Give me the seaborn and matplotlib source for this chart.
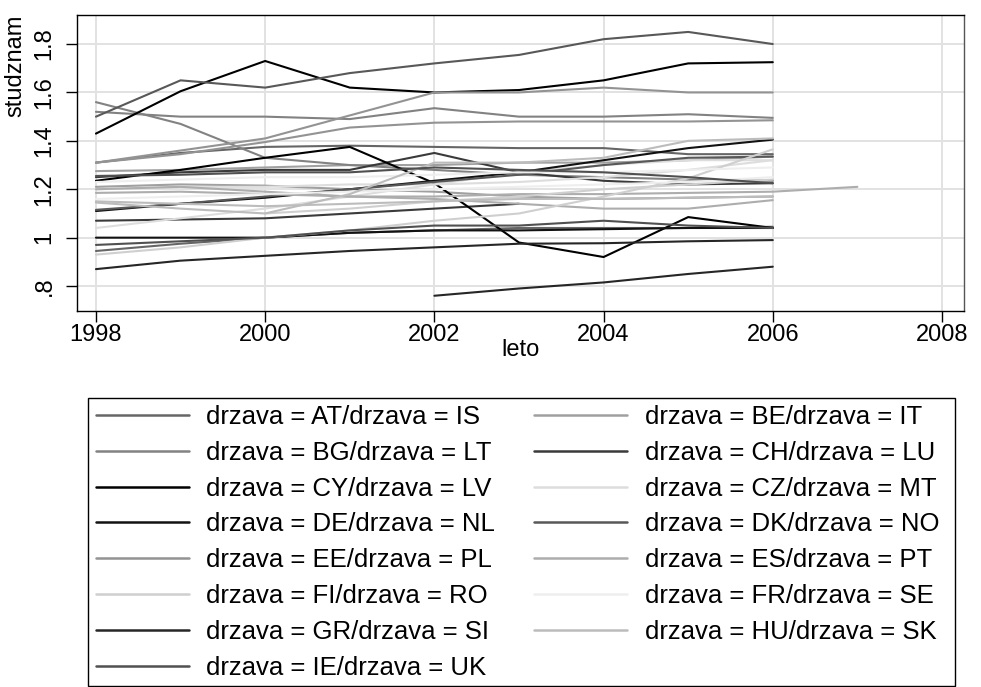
import numpy as np
import pandas as pd
import matplotlib
matplotlib.use("Agg")
import matplotlib.pyplot as plt
from matplotlib.patches import Rectangle
import seaborn as sns

sns.set_theme(style="white")
plt.rcParams['font.family'] = ['Liberation Sans', 'DejaVu Sans']
plt.rcParams.update({"text.color": "black", "axes.labelcolor": "black",
                     "xtick.color": "black", "ytick.color": "black"})

nan = np.nan
years = [1998, 1999, 2000, 2001, 2002, 2003, 2004, 2005, 2006, 2007]

countries = ["AT", "BE", "BG", "CH", "CY", "CZ", "DE", "DK", "EE", "ES",
             "FI", "FR", "GR", "HU", "IE", "IS", "IT", "LT", "LU", "LV",
             "MT", "NL", "NO", "PL", "PT", "RO", "SE", "SI", "SK", "UK"]

AT = [0.945, 0.975, 1.00, 1.02, 1.03, 1.04, 1.04, 1.04, 1.045, nan]
BE = [1.21, 1.22, 1.215, 1.20, 1.19, 1.17, 1.16, 1.165, 1.17, nan]
BG = [1.56, 1.47, 1.33, 1.30, 1.28, 1.26, 1.25, 1.24, 1.235, nan]
CH = [1.25, 1.27, 1.28, 1.28, 1.35, 1.27, 1.235, 1.22, 1.225, nan]
CY = [1.43, 1.605, 1.73, 1.62, 1.60, 1.61, 1.65, 1.72, 1.725, nan]
CZ = [1.04, 1.08, 1.12, 1.17, 1.22, 1.27, 1.30, 1.32, 1.32, nan]
DE = [1.11, 1.14, 1.165, 1.20, 1.235, 1.27, 1.32, 1.37, 1.405, nan]
DK = [1.50, 1.65, 1.62, 1.68, 1.72, 1.755, 1.82, 1.85, 1.80, nan]
EE = [1.31, 1.36, 1.41, 1.505, 1.60, 1.60, 1.62, 1.60, 1.60, nan]
ES = [1.185, 1.19, 1.18, 1.17, 1.17, 1.18, 1.18, 1.185, 1.19, 1.21]
FI = [0.93, 0.96, 1.00, 1.03, 1.07, 1.10, 1.17, 1.245, 1.365, nan]
FR = [1.16, 1.17, 1.18, 1.19, 1.20, 1.21, 1.22, 1.23, 1.25, nan]
GR = [0.87, 0.905, 0.925, 0.945, 0.96, 0.975, 0.977, 0.985, 0.99, nan]
HU = [1.145, 1.12, 1.10, 1.18, 1.31, 1.31, 1.33, 1.40, 1.41, nan]
IE = [0.97, 0.985, 1.00, 1.03, 1.05, 1.05, 1.07, 1.05, 1.04, nan]
IS = [1.31, 1.35, 1.375, 1.38, 1.375, 1.37, 1.37, 1.345, 1.345, nan]
IT = [1.275, 1.28, 1.29, 1.30, 1.30, 1.31, 1.31, 1.32, 1.335, nan]
LT = [1.52, 1.50, 1.50, 1.49, 1.535, 1.50, 1.50, 1.51, 1.495, nan]
LU = [1.07, 1.075, 1.08, 1.10, 1.12, 1.14, nan, nan, nan, nan]
LV = [1.235, 1.28, 1.33, 1.375, 1.225, 0.98, 0.92, 1.085, 1.04, nan]
MT = [1.20, 1.21, 1.21, 1.22, 1.22, 1.23, 1.25, 1.28, 1.32, nan]
NL = [1.00, 1.00, 1.00, 1.02, 1.03, 1.03, 1.035, 1.04, 1.04, nan]
NO = [1.115, 1.14, 1.17, 1.20, 1.23, 1.26, 1.30, 1.33, 1.335, nan]
PL = [1.31, 1.345, 1.395, 1.455, 1.475, 1.48, 1.48, 1.48, 1.485, nan]
PT = [1.20, 1.21, 1.19, 1.17, 1.16, 1.14, 1.12, 1.12, 1.155, nan]
RO = [nan, nan, 1.10, 1.12, 1.15, 1.17, 1.20, 1.22, 1.24, nan]
SE = [1.23, 1.24, 1.25, 1.25, 1.26, 1.27, 1.27, 1.28, 1.29, nan]
SI = [nan, nan, nan, nan, 0.76, 0.79, 0.815, 0.85, 0.88, nan]
SK = [1.15, 1.14, 1.13, 1.14, 1.15, 1.16, 1.16, 1.165, 1.17, nan]
UK = [1.255, 1.26, 1.27, 1.27, 1.29, 1.28, 1.27, 1.25, 1.225, nan]

series = [AT, BE, BG, CH, CY, CZ, DE, DK, EE, ES, FI, FR, GR, HU, IE,
          IS, IT, LT, LU, LV, MT, NL, NO, PL, PT, RO, SE, SI, SK, UK]

style_colors = ["#666666", "#a0a0a0", "#828282", "#3a3a3a", "#000000",
                "#dddddd", "#121212", "#585858", "#939393", "#adadad",
                "#cfcfcf", "#eeeeee", "#262626", "#bcbcbc", "#505050"]

n_styles = 15
labels = [f"drzava = {countries[i]}/drzava = {countries[i + n_styles]}"
          for i in range(n_styles)]

rows = []
for ci, (c, vals) in enumerate(zip(countries, series)):
    for y, v in zip(years, vals):
        if not np.isnan(v):
            rows.append({"drzava": c, "leto": y, "studznam": v,
                         "grp": labels[ci % n_styles]})
df = pd.DataFrame(rows)

W, H = 981, 687
fig = plt.figure(figsize=(W / 100, H / 100), dpi=100)
ax = fig.add_axes([77 / W, 1 - 311 / H, 887 / W, 296 / H])

palette = dict(zip(labels, style_colors))
sns.lineplot(data=df, x="leto", y="studznam", hue="grp", units="drzava",
             estimator=None, hue_order=labels, palette=palette,
             linewidth=1.5, ax=ax, legend=True, sort=True)

FS = 17
ax.set_xlim(1997.776, 2008.26)
ax.set_ylim(0.697, 1.92)
ax.set_xticks([1998, 2000, 2002, 2004, 2006, 2008])
ax.set_xticklabels(["1998", "2000", "2002", "2004", "2006", "2008"])
ax.set_yticks([0.8, 1.0, 1.2, 1.4, 1.6, 1.8])
ax.set_yticklabels([".8", "1", "1.2", "1.4", "1.6", "1.8"])
ax.grid(True, color="#e2e2e2", linewidth=1.4)
ax.set_axisbelow(True)
for s in ax.spines.values():
    s.set_visible(True)
    s.set_color("black")
    s.set_linewidth(1.0)
ax.spines["right"].set_color("#555555")

ax.tick_params(axis="both", which="major", direction="out", length=8,
               width=1.0, color="black", labelsize=FS, left=True, bottom=True,
               labelcolor="black")
ax.tick_params(axis="x", pad=1.5)
ax.tick_params(axis="y", pad=7.5, labelrotation=90)
for lbl in ax.get_yticklabels():
    lbl.set_va("center")

ax.set_xlabel("leto", fontsize=FS, labelpad=-5, color="black")
ax.set_ylabel("studznam", fontsize=FS, color="black")
ax.yaxis.label.set_va("center")
ax.yaxis.set_label_coords(-0.069, 0.83)

handles, labs = ax.get_legend_handles_labels()
ax.get_legend().remove()
order = [0, 2, 4, 6, 8, 10, 12, 14, 1, 3, 5, 7, 9, 11, 13]
handles = [handles[i] for i in order]
labs = [labs[i] for i in order]
for h in handles:
    h.set_linewidth(1.8)

LFS = 18.5
emp = LFS * 100 / 72.0
leg = fig.legend(handles, labs, loc="upper left",
                 bbox_to_anchor=(96 / W, 1 - 405 / H),
                 ncol=2, fontsize=LFS, frameon=False,
                 handlelength=93 / emp, handletextpad=0.68,
                 labelspacing=0.46, borderpad=0.0, borderaxespad=0.0,
                 columnspacing=39 / emp)
for t in leg.get_texts():
    t.set_color("black")

fig.patches.append(Rectangle((88 / W, 1 - 686 / H), 867 / W, 288 / H,
                             transform=fig.transFigure, fill=False,
                             edgecolor="black", linewidth=1.0))

fig.savefig("out.png", dpi=100, facecolor="white")
